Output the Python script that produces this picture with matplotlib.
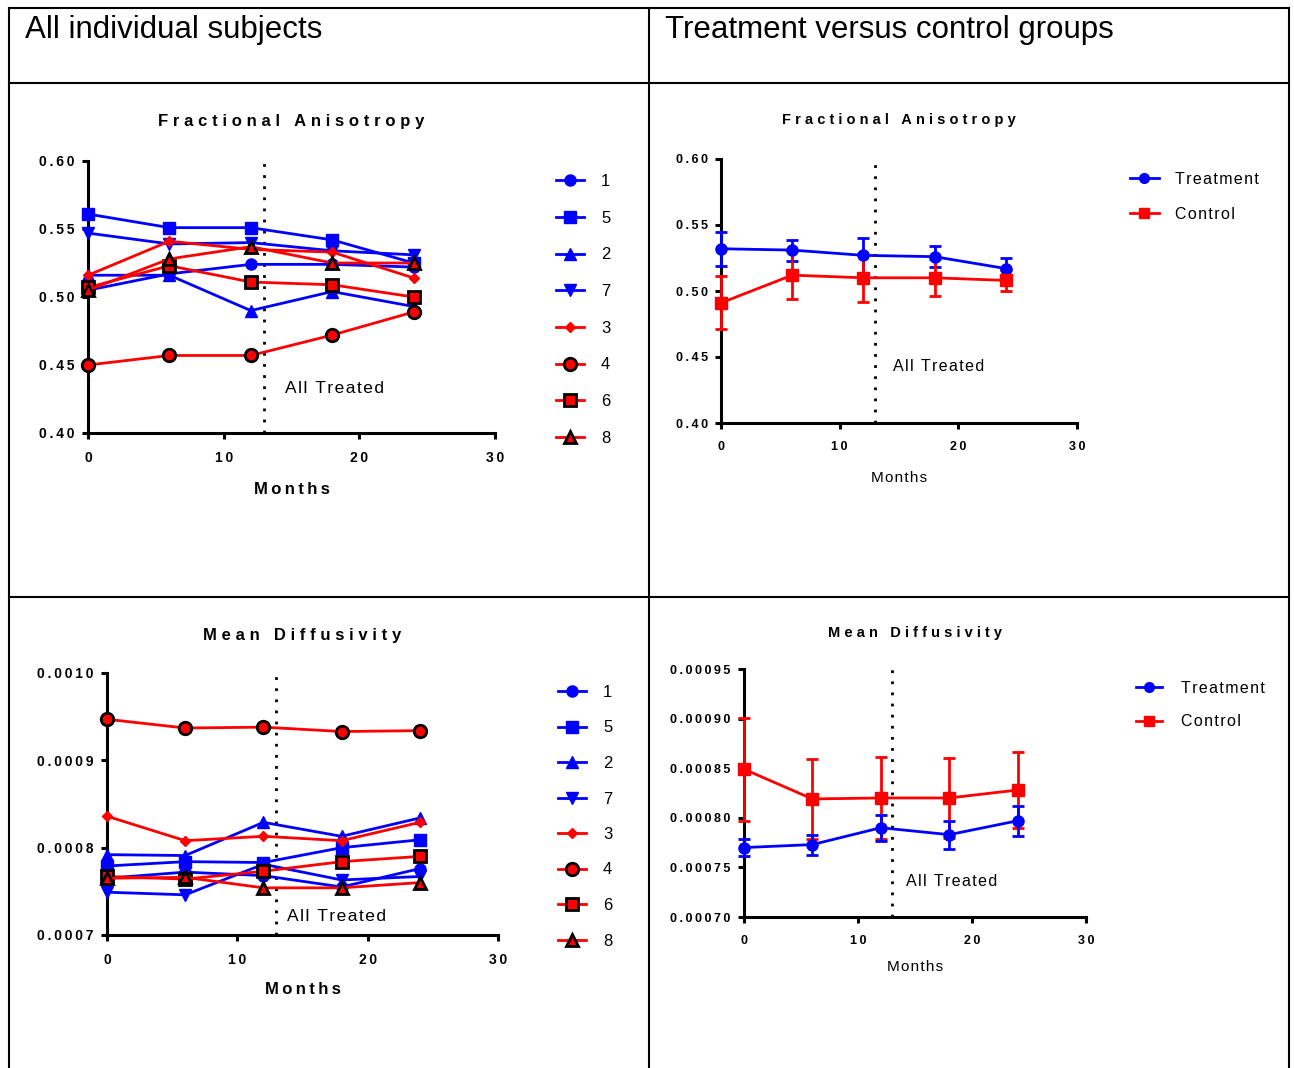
import matplotlib
matplotlib.use("Agg")
import matplotlib.pyplot as plt
from matplotlib.lines import Line2D
from matplotlib.ticker import FuncFormatter, MultipleLocator

plt.rcParams['font.family'] = ['Liberation Sans', 'DejaVu Sans']

W, H = 1294, 1068

months = [0, 6, 12, 18, 24]
subjects = ['1', '5', '2', '7', '3', '4', '6', '8']

# individual subjects, fractional anisotropy
fa_subj = {
    '1': [0.505, 0.517, 0.524, 0.524, 0.522],
    '5': [0.561, 0.551, 0.551, 0.542, 0.525],
    '2': [0.516, 0.516, 0.490, 0.504, 0.493],
    '7': [0.547, 0.539, 0.540, 0.534, 0.531],
    '3': [0.516, 0.541, 0.535, 0.533, 0.514],
    '4': [0.450, 0.457, 0.457, 0.472, 0.489],
    '6': [0.507, 0.523, 0.511, 0.509, 0.500],
    '8': [0.505, 0.528, 0.537, 0.525, 0.525],
}

# individual subjects, mean diffusivity
md_subj = {
    '1': [0.000765, 0.000772, 0.000768, 0.000755, 0.000776],
    '5': [0.000779, 0.000784, 0.000783, 0.000800, 0.000809],
    '2': [0.000792, 0.000791, 0.000829, 0.000813, 0.000834],
    '7': [0.000749, 0.000746, 0.000781, 0.000763, 0.000767],
    '3': [0.000836, 0.000808, 0.000813, 0.000808, 0.000829],
    '4': [0.000947, 0.000937, 0.000938, 0.000933, 0.000934],
    '6': [0.000767, 0.000764, 0.000773, 0.000784, 0.000790],
    '8': [0.000765, 0.000766, 0.000754, 0.000754, 0.000760],
}

# group means and error bars
fa_treat = [0.532, 0.531, 0.527, 0.526, 0.517]
fa_treat_err = [0.013, 0.008, 0.013, 0.008, 0.008]
fa_ctrl = [0.491, 0.512, 0.510, 0.510, 0.508]
fa_ctrl_err = [0.020, 0.018, 0.018, 0.014, 0.008]

md_treat = [0.000770, 0.000773, 0.000790, 0.000783, 0.000797]
md_treat_err = [0.000009, 0.000010, 0.000013, 0.000014, 0.000015]
md_ctrl = [0.000849, 0.000819, 0.000820, 0.000820, 0.000828]
md_ctrl_err = [0.000052, 0.000040, 0.000041, 0.000040, 0.000038]

styles = {
    '1': dict(color='#0000FF', marker='o', ms=8, mec='#0000FF'),
    '5': dict(color='#0000FF', marker='s', ms=8, mec='#0000FF'),
    '2': dict(color='#0000FF', marker='^', ms=8, mec='#0000FF'),
    '7': dict(color='#0000FF', marker='v', ms=8, mec='#0000FF'),
    '3': dict(color='#FF0000', marker='D', ms=5, mec='#FF0000'),
    '4': dict(color='#FF0000', marker='o', ms=9, mec='black', mew=2),
    '6': dict(color='#FF0000', marker='s', ms=9, mec='black', mew=2),
    '8': dict(color='#FF0000', marker='^', ms=9, mec='black', mew=2),
}

HAIR = '\u200a'
THIN = '\u2009'


def sp(s, gap=HAIR):
    return gap.join(s)


def box(x0, y0, x1, y1):
    return [x0 / W, 1 - y1 / H, (x1 - x0) / W, (y1 - y0) / H]


def style_axes(ax, ylim, ystep, fmt, tick_fs, left_panel, xlabelpad):
    ax.set_xlim(0, 30)
    ax.set_ylim(*ylim)
    ax.xaxis.set_major_locator(MultipleLocator(10))
    ax.yaxis.set_major_locator(MultipleLocator(ystep))
    ax.xaxis.set_major_formatter(FuncFormatter(lambda v, p: sp('%d' % round(v), THIN)))
    ax.yaxis.set_major_formatter(FuncFormatter(lambda v, p: sp(fmt % v, THIN)))
    for s in ['top', 'right']:
        ax.spines[s].set_visible(False)
    for s in ['left', 'bottom']:
        ax.spines[s].set_linewidth(2.2)
    ax.tick_params(direction='out', length=4.5, width=2.2, labelsize=tick_fs, pad=5)
    ax.tick_params(axis='x', pad=8.5)
    for lab in ax.get_xticklabels() + ax.get_yticklabels():
        lab.set_fontweight('bold')
    if left_panel:
        ax.set_xlabel(sp('Months', THIN), fontsize=12, fontweight='bold', labelpad=xlabelpad)
    else:
        ax.set_xlabel(sp('Months'), fontsize=11, labelpad=xlabelpad)
    ax.axvline(13, color='black', ls=(0, (1, 3)), lw=2)


fig = plt.figure(figsize=(W / 100, H / 100), dpi=100)

# table grid lines
for (x0, y0, x1, y1) in [(9, 8, 1289, 8), (9, 83, 1289, 83), (9, 597, 1289, 597),
                         (9, 8, 9, 1068), (649, 8, 649, 1068), (1289, 8, 1289, 1068)]:
    fig.add_artist(Line2D([x0 / W, x1 / W], [1 - y0 / H, 1 - y1 / H], color='black', lw=1.5))

fig.text(25 / W, 1 - 30 / H, 'All individual subjects', fontsize=22.5, va='center', ha='left')
fig.text(665 / W, 1 - 30 / H, 'Treatment versus control groups', fontsize=22.5, va='center', ha='left')

TGAP = THIN + HAIR

# top-left: FA individual
ax1 = fig.add_axes(box(88, 161, 495, 433))
for s in subjects:
    ax1.plot(months, fa_subj[s], lw=2, label=s, clip_on=False, zorder=3, **styles[s])
style_axes(ax1, (0.40, 0.60), 0.05, '%.2f', 10, True, 12)
ax1.set_title(sp('Fractional Anisotropy', TGAP), fontsize=12, fontweight='bold', pad=25)
ax1.text(14.5, 0.433, sp('All Treated'), fontsize=12.5, va='center')
ax1.legend(loc='upper left', bbox_to_anchor=(556 / W, 1 - 174 / H), bbox_transform=fig.transFigure,
           frameon=False, borderpad=0, borderaxespad=0, handlelength=1.7, handletextpad=1.0,
           labelspacing=1.3, fontsize=12, numpoints=1)

# bottom-left: MD individual
ax2 = fig.add_axes(box(107, 673, 498, 935))
for s in subjects:
    ax2.plot(months, md_subj[s], lw=2, label=s, clip_on=False, zorder=3, **styles[s])
style_axes(ax2, (0.0007, 0.0010), 0.0001, '%.4f', 10, True, 11)
ax2.set_title(sp('Mean Diffusivity', TGAP), fontsize=12, fontweight='bold', pad=24)
ax2.text(13.8, 0.000721, sp('All Treated'), fontsize=12.5, va='center')
ax2.legend(loc='upper left', bbox_to_anchor=(558 / W, 1 - 685 / H), bbox_transform=fig.transFigure,
           frameon=False, borderpad=0, borderaxespad=0, handlelength=1.7, handletextpad=1.0,
           labelspacing=1.23, fontsize=12, numpoints=1)

# top-right: FA groups
ax3 = fig.add_axes(box(721, 159, 1077, 423))
ax3.errorbar(months, fa_treat, yerr=fa_treat_err, color='#0000FF', marker='o', ms=8, lw=2,
             capsize=4, capthick=2, elinewidth=2, clip_on=False, zorder=3)
ax3.errorbar(months, fa_ctrl, yerr=fa_ctrl_err, color='#FF0000', marker='s', ms=8, lw=2,
             capsize=4, capthick=2, elinewidth=2, clip_on=False, zorder=3)
style_axes(ax3, (0.40, 0.60), 0.05, '%.2f', 9, False, 13)
ax3.set_title(sp('Fractional Anisotropy', TGAP), fontsize=10.5, fontweight='bold', pad=25)
ax3.text(14.5, 0.4427, sp('All Treated'), fontsize=11.5, va='center')
h3 = [Line2D([], [], color='#0000FF', marker='o', ms=7, lw=2),
      Line2D([], [], color='#FF0000', marker='s', ms=7, lw=2)]
ax3.legend(h3, [sp('Treatment'), sp('Control')], loc='upper left',
           bbox_to_anchor=(1130 / W, 1 - 172 / H), bbox_transform=fig.transFigure,
           frameon=False, borderpad=0, borderaxespad=0, handlelength=1.8, handletextpad=1.0,
           labelspacing=1.25, fontsize=11.5, numpoints=1)

# bottom-right: MD groups
ax4 = fig.add_axes(box(744, 669, 1086, 917))
ax4.errorbar(months, md_treat, yerr=md_treat_err, color='#0000FF', marker='o', ms=8, lw=2,
             capsize=4, capthick=2, elinewidth=2, clip_on=False, zorder=4)
ax4.errorbar(months, md_ctrl, yerr=md_ctrl_err, color='#FF0000', marker='s', ms=8, lw=2,
             capsize=4, capthick=2, elinewidth=2, clip_on=False, zorder=3)
style_axes(ax4, (0.00070, 0.00095), 0.00005, '%.5f', 9, False, 9)
ax4.set_title(sp('Mean Diffusivity', TGAP), fontsize=10.5, fontweight='bold', pad=23)
ax4.text(14.2, 0.000736, sp('All Treated'), fontsize=11.5, va='center')
h4 = [Line2D([], [], color='#0000FF', marker='o', ms=7, lw=2),
      Line2D([], [], color='#FF0000', marker='s', ms=7, lw=2)]
ax4.legend(h4, [sp('Treatment'), sp('Control')], loc='upper left',
           bbox_to_anchor=(1136 / W, 1 - 681 / H), bbox_transform=fig.transFigure,
           frameon=False, borderpad=0, borderaxespad=0, handlelength=1.6, handletextpad=1.2,
           labelspacing=1.15, fontsize=11.5, numpoints=1)

fig.savefig('out.png', dpi=100)
